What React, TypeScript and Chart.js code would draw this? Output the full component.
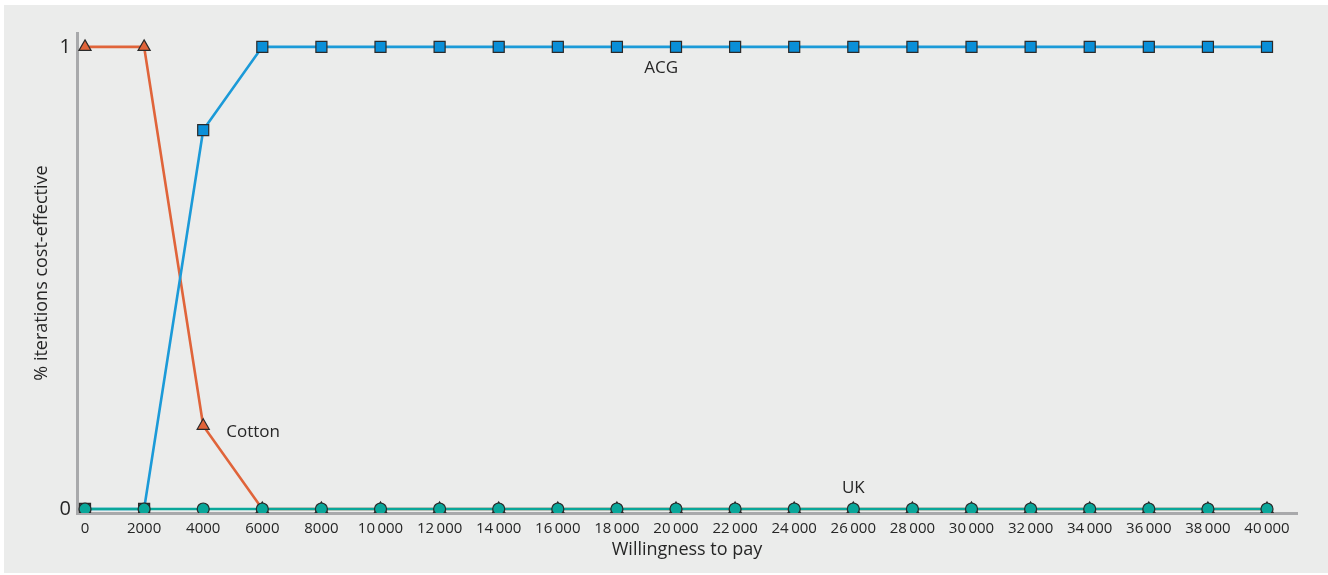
import React, { useEffect, useRef } from "react";
import { Chart, registerables } from "chart.js";

Chart.register(...registerables);

const xValues = [0, 2000, 4000, 6000, 8000, 10000, 12000, 14000, 16000, 18000, 20000, 22000, 24000, 26000, 28000, 30000, 32000, 34000, 36000, 38000, 40000];
const xTickLabels = ["0", "2000", "4000", "6000", "8000", "10\u2009000", "12\u2009000", "14\u2009000", "16\u2009000", "18\u2009000", "20\u2009000", "22\u2009000", "24\u2009000", "26\u2009000", "28\u2009000", "30\u2009000", "32\u2009000", "34\u2009000", "36\u2009000", "38\u2009000", "40\u2009000"];
const yTickValues = [0, 1];
const yTickLabels = ["0", "1"];

const acgValues = [0, 0, 0.82, 1, 1, 1, 1, 1, 1, 1, 1, 1, 1, 1, 1, 1, 1, 1, 1, 1, 1];
const cottonValues = [1, 1, 0.18, 0, 0, 0, 0, 0, 0, 0, 0, 0, 0, 0, 0, 0, 0, 0, 0, 0, 0];
const ukValues = [0, 0, 0, 0, 0, 0, 0, 0, 0, 0, 0, 0, 0, 0, 0, 0, 0, 0, 0, 0, 0];

const seriesNames = ["UK", "ACG", "Cotton"];

const annotations = [
  { text: "ACG", x: 19500, y: 0.953, align: "center" },
  { text: "Cotton", x: 4780, y: 0.167, align: "left" },
  { text: "UK", x: 26000, y: 0.044, align: "center" },
];

const FONT = "'Open Sans', 'Noto Sans', sans-serif";
const TEXT = "#262626";

const labelPlugin = {
  id: "seriesLabels",
  afterDatasetsDraw(chart: any) {
    const { ctx, scales } = chart;
    ctx.save();
    ctx.font = `17px ${FONT}`;
    ctx.fillStyle = TEXT;
    ctx.textBaseline = "middle";
    for (const a of annotations) {
      ctx.textAlign = a.align;
      ctx.fillText(a.text, scales.x.getPixelForValue(a.x), scales.y.getPixelForValue(a.y));
    }
    ctx.restore();
  },
};

export default function App() {
  const ref = useRef<HTMLCanvasElement | null>(null);
  useEffect(() => {
    if (!ref.current) return;
    const toPts = (vals: number[]) => xValues.map((x, i) => ({ x, y: vals[i] }));
    const chart = new Chart(ref.current, {
      type: "line",
      data: {
        datasets: [
          {
            label: seriesNames[0],
            data: toPts(ukValues),
            borderColor: "#0aa79a",
            backgroundColor: "#0aa79a",
            borderWidth: 2.6,
            pointStyle: "circle",
            pointRadius: 6,
            pointBorderColor: "#2a2a2a",
            pointBorderWidth: 1.2,
          },
          {
            label: seriesNames[1],
            data: toPts(acgValues),
            borderColor: "#1b9ad8",
            backgroundColor: "#0a8fd8",
            borderWidth: 2.6,
            pointStyle: "rect",
            pointRadius: 7.8,
            pointBorderColor: "#2a2a2a",
            pointBorderWidth: 1.2,
          },
          {
            label: seriesNames[2],
            data: toPts(cottonValues),
            borderColor: "#e0643a",
            backgroundColor: "#e0643a",
            borderWidth: 2.6,
            pointStyle: "triangle",
            pointRadius: 7,
            pointBorderColor: "#2a2a2a",
            pointBorderWidth: 1.2,
          },
        ],
      },
      options: {
        animation: false,
        responsive: false,
        maintainAspectRatio: false,
        layout: { padding: { top: 28, right: 31, left: 0, bottom: 0 } },
        plugins: { legend: { display: false }, tooltip: { enabled: false } },
        scales: {
          x: {
            type: "linear",
            min: -271,
            max: 41015,
            grid: { display: false, drawTicks: false },
            border: { display: true, color: "#a8a9ab", width: 3 },
            afterFit: (s: any) => { s.height = 60; },
            afterBuildTicks: (s: any) => { s.ticks = xValues.map((v) => ({ value: v })); },
            ticks: {
              autoSkip: false,
              maxRotation: 0,
              padding: 7,
              color: TEXT,
              font: { family: FONT, size: 15 },
              callback: (_v: any, i: number) => xTickLabels[i],
            },
            title: {
              display: true,
              text: "Willingness to pay",
              color: TEXT,
              font: { family: FONT, size: 18 },
              padding: { top: 0, bottom: 12 },
            },
          },
          y: {
            type: "linear",
            min: -0.0087,
            max: 1.03,
            grid: { display: false, drawTicks: false },
            border: { display: true, color: "#a8a9ab", width: 3 },
            afterFit: (s: any) => { s.width = 73; },
            afterBuildTicks: (s: any) => { s.ticks = yTickValues.map((v) => ({ value: v })); },
            ticks: {
              padding: 6,
              color: TEXT,
              font: { family: FONT, size: 20 },
              callback: (_v: any, i: number) => yTickLabels[i],
            },
            title: {
              display: true,
              text: "% iterations cost-effective",
              color: TEXT,
              font: { family: FONT, size: 18 },
              padding: { top: 27, bottom: 0 },
            },
          },
        },
      },
      plugins: [labelPlugin],
    });
    return () => chart.destroy();
  }, []);

  return (
    <div style={{ position: "absolute", left: 4, top: 5, width: 1324, height: 568, background: "#ebeceb" }}>
      <canvas ref={ref} width={1324} height={568} style={{ display: "block", width: 1324, height: 568 }} />
    </div>
  );
}
